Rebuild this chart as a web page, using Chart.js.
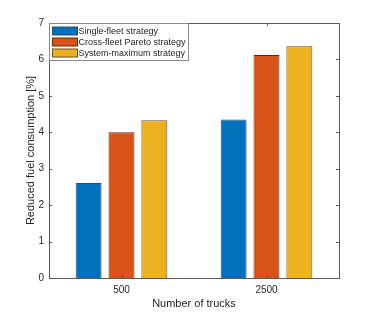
<!DOCTYPE html>
<html>
<head>
<meta charset="utf-8">
<script src="https://cdn.jsdelivr.net/npm/chart.js@4"></script>
<style>
  body { margin: 0; background: #fff; }
  canvas { display: block; }
</style>
</head>
<body>
<canvas id="chart" width="375" height="313"></canvas>
<script>
// data
const categories = ['500', '2500'];
const seriesNames = ['Single-fleet strategy', 'Cross-fleet Pareto strategy', 'System-maximum strategy'];
const singleFleet = [2.61, 4.35];
const crossFleet = [4.0, 6.12];
const systemMax = [4.33, 6.36];
const yTicks = [0, 1, 2, 3, 4, 5, 6, 7];

const colors = ['#0072BD', '#D95319', '#EDB120'];
const edgeColors = ['#3a4a5a', '#5a2a10', '#6a5020'];
const axisColor = '#5a5a5a';
const textColor = '#262626';
const fontFamily = '"Liberation Sans", Arial, Helvetica, sans-serif';

// box around the axes with inward ticks, matlab style
const boxPlugin = {
    id: 'box',
    afterDraw(chart) {
        const c = chart.ctx;
        const a = chart.chartArea;
        const x = chart.scales.x, y = chart.scales.y;
        c.save();
        c.strokeStyle = axisColor;
        c.lineWidth = 1;
        c.strokeRect(a.left + 0.5, a.top + 0.5, a.right - a.left, a.bottom - a.top);
        c.beginPath();
        yTicks.forEach(v => {
            const py = Math.round(y.getPixelForValue(v)) + 0.5;
            c.moveTo(a.left, py); c.lineTo(a.left + 3, py);
            c.moveTo(a.right, py); c.lineTo(a.right - 3, py);
        });
        categories.forEach((cat, i) => {
            const px = Math.round(x.getPixelForValue(i)) + 0.5;
            c.moveTo(px, a.bottom); c.lineTo(px, a.bottom - 3);
            c.moveTo(px, a.top); c.lineTo(px, a.top + 3);
        });
        c.stroke();

        // legend box in the upper left corner
        const lx = a.left + 0.5, ly = a.top + 0.5;
        const w = 139, h = 37;
        c.fillStyle = '#fff';
        c.fillRect(lx, ly, w, h);
        c.strokeStyle = '#8a8a8a';
        c.strokeRect(lx, ly, w, h);
        c.font = '9px ' + fontFamily;
        c.textBaseline = 'middle';
        seriesNames.forEach((name, i) => {
            const ry = ly + 7.5 + i * 11;
            c.fillStyle = colors[i];
            c.fillRect(lx + 3, ry - 4, 25, 8);
            c.strokeStyle = edgeColors[i];
            c.strokeRect(lx + 3, ry - 4, 25, 8);
            c.fillStyle = textColor;
            c.fillText(name, lx + 29, ry + 0.5);
        });
        c.restore();
    }
};

const ctx = document.getElementById('chart').getContext('2d');
const myChart = new Chart(ctx, {
    type: 'bar',
    data: {
        labels: categories,
        datasets: [singleFleet, crossFleet, systemMax].map((vals, i) => ({
            label: seriesNames[i],
            data: vals,
            backgroundColor: colors[i],
            borderColor: edgeColors[i],
            borderWidth: 1,
            borderSkipped: 'bottom',
            barPercentage: 0.79,
            categoryPercentage: 0.68
        }))
    },
    options: {
        responsive: false,
        animation: false,
        layout: { padding: { top: 23, right: 36, left: 24, bottom: 0 } },
        plugins: {
            legend: { display: false },
            tooltip: { enabled: false }
        },
        scales: {
            x: {
                offset: true,
                grid: { display: false, drawTicks: false },
                border: { display: false },
                ticks: { color: textColor, font: { family: fontFamily, size: 10 }, padding: 6 },
                title: {
                    display: true,
                    text: 'Number of trucks',
                    color: textColor,
                    font: { family: fontFamily, size: 11 },
                    padding: { top: 2, bottom: 2 }
                },
                afterFit(scale) { scale.height = 35; }
            },
            y: {
                min: 0,
                max: 7,
                afterBuildTicks(scale) { scale.ticks = yTicks.map(v => ({ value: v })); },
                grid: { display: false, drawTicks: false },
                border: { display: false },
                ticks: { color: textColor, font: { family: fontFamily, size: 10 }, padding: 5 },
                title: {
                    display: true,
                    text: 'Reduced fuel consumption [%]',
                    color: textColor,
                    font: { family: fontFamily, size: 11 },
                    padding: { top: 0, bottom: 0 }
                },
                afterFit(scale) { scale.width = 25; }
            }
        }
    },
    plugins: [boxPlugin]
});
</script>
</body>
</html>
